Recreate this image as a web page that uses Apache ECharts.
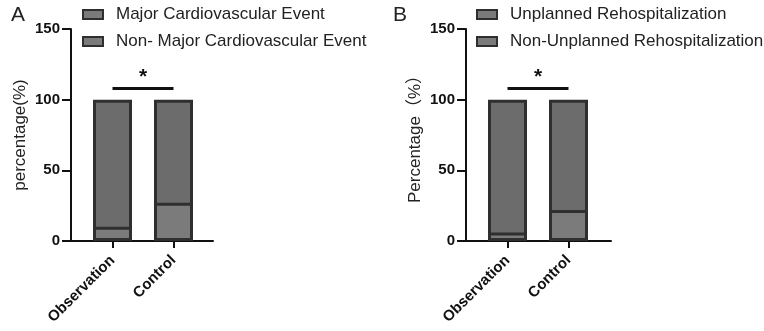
<!DOCTYPE html>
<html>
<head>
<meta charset="utf-8">
<script src="https://cdn.jsdelivr.net/npm/echarts@6/dist/echarts.min.js"></script>
<style>html,body{margin:0;padding:0;background:#fff;}#c{width:764px;height:331px;}</style>
</head>
<body>
<div id="c"></div>
<script>
const categories = ['Observation', 'Control'];
const yTicks = [0, 50, 100, 150];
const seriesA1Name = 'Major Cardiovascular Event';
const seriesA2Name = 'Non- Major Cardiovascular Event';
const seriesA1 = [10, 27];
const seriesA2 = [90, 73];
const seriesB1Name = 'Unplanned Rehospitalization';
const seriesB2Name = 'Non-Unplanned Rehospitalization';
const seriesB1 = [6, 22];
const seriesB2 = [94, 78];
const sigLevel = 108;
const yNameA = 'percentage(%)';
const yNameB = 'Percentage\uFF08%\uFF09';

const FONT = 'Liberation Sans, Arial, sans-serif';
const NAMEFONT = 'Liberation Sans, Noto Sans CJK SC, sans-serif';
const lightFill = '#7b7b7b', darkFill = '#6c6c6c', edge = '#2f2f2f';

function outerX(gi) {
  return { type: 'value', gridIndex: gi, min: 0, max: 1, axisLine: { show: true, onZero: false, lineStyle: { color: '#111', width: 2 } },
    axisTick: { show: false }, axisLabel: { show: false }, splitLine: { show: false } };
}
function innerX(gi) {
  return { type: 'category', gridIndex: gi, data: categories, axisLine: { show: false },
    axisTick: { show: true, alignWithLabel: true, length: 7, lineStyle: { color: '#111', width: 2 } },
    axisLabel: { rotate: 45, fontSize: 15, fontWeight: 'bold', color: '#111', fontFamily: FONT, margin: 17 } };
}
function outerY(gi, name) {
  return { type: 'value', gridIndex: gi, min: yTicks[0], max: yTicks[yTicks.length - 1], interval: 50,
    name: name, nameLocation: 'middle', nameGap: 42,
    nameTextStyle: { fontSize: 17, color: '#222', fontFamily: NAMEFONT },
    axisLine: { show: true, lineStyle: { color: '#111', width: 2 } },
    axisTick: { show: true, length: 9, lineStyle: { color: '#111', width: 2 } },
    axisLabel: { fontSize: 15, fontWeight: 'bold', color: '#111', fontFamily: FONT, margin: 11 },
    splitLine: { show: false } };
}
function innerY(gi) {
  return { type: 'value', gridIndex: gi, min: 0, max: 150, interval: 50, show: false, splitLine: { show: false } };
}
// The "Non-" segment is drawn as the full stacked column (its top sits at lower + upper values),
// the lower segment is laid over it, so every outline is a single 3 px line.
function upperBar(name, lower, upper, xi) {
  return { type: 'bar', name: name, data: upper.map((v, i) => v + lower[i]), xAxisIndex: xi, yAxisIndex: xi,
    barWidth: 39, barGap: '-100%', z: 2,
    itemStyle: { color: darkFill, borderColor: edge, borderWidth: 3 }, emphasis: { disabled: true },
    markLine: { silent: true, symbol: 'none',
      lineStyle: { color: '#111', width: 3, type: 'solid' },
      label: { show: true, formatter: '*', position: 'insideMiddleTop', distance: 1, fontSize: 21, fontWeight: 'bold', color: '#111', fontFamily: FONT },
      data: [[{ coord: [categories[0], sigLevel] }, { coord: [categories[1], sigLevel] }]] } };
}
function lowerBar(name, lower, xi) {
  return { type: 'bar', name: name, data: lower, xAxisIndex: xi, yAxisIndex: xi,
    barWidth: 39, barGap: '-100%', z: 3,
    itemStyle: { color: lightFill, borderColor: edge, borderWidth: 3 }, emphasis: { disabled: true } };
}
function legend(left, names) {
  return { left: left, top: 1, orient: 'vertical', itemWidth: 20, itemHeight: 9, itemGap: 10, icon: 'rect',
    data: names, selectedMode: false,
    itemStyle: { color: lightFill, borderColor: edge, borderWidth: 2 },
    textStyle: { fontSize: 17, color: '#222', fontFamily: FONT, padding: [0, 0, 0, 8] } };
}

const chart = echarts.init(document.getElementById('c'), null, { renderer: 'canvas' });
chart.setOption({
  animation: false,
  textStyle: { fontFamily: FONT },
  title: [
    { text: 'A', left: 6, top: 0, textStyle: { fontSize: 21, fontWeight: 'normal', color: '#222', fontFamily: FONT } },
    { text: 'B', left: 388, top: 0, textStyle: { fontSize: 21, fontWeight: 'normal', color: '#222', fontFamily: FONT } }
  ],
  legend: [legend(77, [seriesA1Name, seriesA2Name]), legend(471, [seriesB1Name, seriesB2Name])],
  grid: [
    { left: 71, top: 29, width: 142, height: 212 },
    { left: 82, top: 29, width: 122, height: 212 },
    { left: 466, top: 29, width: 145, height: 212 },
    { left: 477, top: 29, width: 122, height: 212 }
  ],
  xAxis: [outerX(0), innerX(1), outerX(2), innerX(3)],
  yAxis: [outerY(0, yNameA), innerY(1), outerY(2, yNameB), innerY(3)],
  series: [
    lowerBar(seriesA1Name, seriesA1, 1),
    upperBar(seriesA2Name, seriesA1, seriesA2, 1),
    lowerBar(seriesB1Name, seriesB1, 3),
    upperBar(seriesB2Name, seriesB1, seriesB2, 3)
  ]
});
</script>
</body>
</html>
